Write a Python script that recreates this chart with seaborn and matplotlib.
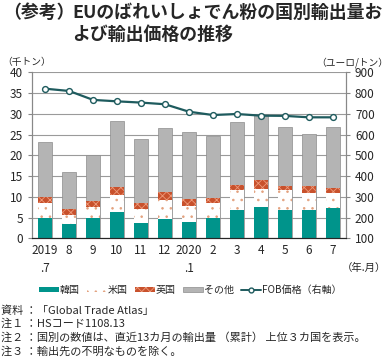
import numpy as np
import pandas as pd
import matplotlib
matplotlib.use("Agg")
import matplotlib.pyplot as plt
from matplotlib.patches import Patch
from matplotlib.lines import Line2D
from matplotlib.ticker import MultipleLocator, FixedLocator
import seaborn as sns

# データ
months = ["2019\n.7", "8", "9", "10", "11", "12", "2020\n.1", "2", "3", "4", "5", "6", "7"]
korea = [5.0, 3.4, 4.8, 6.3, 3.6, 4.7, 3.9, 4.9, 6.7, 7.6, 6.9, 6.7, 7.4]
usa = [3.4, 2.1, 2.8, 4.2, 3.4, 4.6, 4.0, 3.7, 4.9, 4.2, 4.7, 4.1, 3.6]
uk = [1.5, 1.5, 1.4, 1.8, 1.6, 1.8, 1.5, 1.2, 1.3, 2.2, 1.0, 1.8, 1.2]
other = [13.2, 8.9, 11.0, 15.9, 15.3, 15.4, 16.2, 14.8, 15.1, 16.0, 14.3, 12.5, 14.7]
fob = [821, 810, 767, 760, 754, 746, 710, 694, 699, 691, 690, 683, 683]


def main():
    sns.set_style("white")
    plt.rcParams['font.family'] = ['Noto Sans CJK JP', 'DejaVu Sans']
    plt.rcParams['hatch.linewidth'] = 0.6

    df = pd.DataFrame({"month": months, "korea": korea, "usa": usa, "uk": uk, "other": other})
    df["c1"] = df["korea"]
    df["c2"] = df["c1"] + df["usa"]
    df["c3"] = df["c2"] + df["uk"]
    df["c4"] = df["c3"] + df["other"]

    c_teal = "#00948b"
    c_red = "#c8512c"
    c_gray = "#b4b4b4"
    c_line = "#1e5b5e"

    fig = plt.figure(figsize=(3.9, 3.57), dpi=100)
    ax = fig.add_axes([0.082, 0.3325, 0.805, 0.465])

    w = 0.58
    # 積み上げ（後ろから描画）
    sns.barplot(data=df, x="month", y="c4", color=c_gray, saturation=1, width=w,
                edgecolor="#8c8c8c", linewidth=0.5, ax=ax, zorder=2)
    sns.barplot(data=df, x="month", y="c3", color=c_red, saturation=1, width=w,
                edgecolor="#ee9a7a", linewidth=0, hatch="xxxx", ax=ax, zorder=2)
    sns.barplot(data=df, x="month", y="c2", color="white", saturation=1, width=w,
                edgecolor="#e3a27f", linewidth=0, hatch="..", ax=ax, zorder=2)
    sns.barplot(data=df, x="month", y="c1", color=c_teal, saturation=1, width=w,
                linewidth=0, ax=ax, zorder=2)

    ax.set_ylim(0, 40)
    ax.set_xlim(-0.55, len(months) - 0.45)
    ax.yaxis.set_major_locator(MultipleLocator(5))
    ax.grid(axis="y", color="#9a9a9a", linewidth=0.8, zorder=0)
    ax.set_axisbelow(True)
    ax.set_xlabel("")
    ax.set_ylabel("")
    ax.spines["top"].set_visible(False)
    for s in ["left", "right"]:
        ax.spines[s].set_color("#888888")
    ax.spines["bottom"].set_color("#555555")
    ax.tick_params(axis="x", which="major", length=0, labelsize=8.5, pad=4)
    ax.xaxis.set_minor_locator(FixedLocator(np.arange(-0.5, len(months), 1.0)))
    ax.tick_params(axis="x", which="minor", length=3, color="#555555", direction="out")
    ax.tick_params(axis="y", labelsize=8.5, length=3, color="#888888", left=True)
    for lab in ax.get_xticklabels():
        lab.set_linespacing(1.5)

    ax2 = ax.twinx()
    sns.lineplot(x=np.arange(len(fob)), y=fob, ax=ax2, color=c_line, linewidth=1.6,
                 marker="o", markersize=4.2, markerfacecolor="white",
                 markeredgecolor=c_line, markeredgewidth=1.0, zorder=5)
    ax2.set_ylim(100, 900)
    ax2.yaxis.set_major_locator(MultipleLocator(100))
    ax2.tick_params(axis="y", labelsize=8.5, length=3, color="#888888", right=True)
    ax2.spines["top"].set_visible(False)
    ax2.spines["right"].set_color("#888888")
    ax2.spines["left"].set_color("#888888")
    ax2.grid(False)

    # タイトル・単位
    fig.text(0.008, 0.965, "（参考）", fontsize=12.9, fontweight="bold", va="center", ha="left")
    fig.text(0.185, 0.965, "EUのばれいしょでん粉の国別輸出量お", fontsize=12.9,
             fontweight="bold", va="center", ha="left")
    fig.text(0.185, 0.902, "よび輸出価格の推移", fontsize=12.9, fontweight="bold",
             va="center", ha="left")
    fig.text(0.005, 0.826, "（千トン）", fontsize=7, va="center", ha="left")
    fig.text(0.995, 0.826, "（ユーロ/トン）", fontsize=7, va="center", ha="right")
    fig.text(0.99, 0.25, "（年.月）", fontsize=7.5, va="center", ha="right")

    handles = [
        Patch(facecolor=c_teal, edgecolor="none", label="韓国"),
        Patch(facecolor="white", edgecolor="#e3a27f", hatch="..", linewidth=0, label="米国"),
        Patch(facecolor=c_red, edgecolor="#ee9a7a", hatch="xxxx", linewidth=0, label="英国"),
        Patch(facecolor=c_gray, edgecolor="#8c8c8c", linewidth=0.5, label="その他"),
        Line2D([0], [0], color=c_line, linewidth=1.4, marker="o", markersize=3.5,
               markerfacecolor="white", markeredgecolor=c_line, label="FOB価格（右軸）"),
    ]
    fig.legend(handles=handles, loc="center", bbox_to_anchor=(0.487, 0.188), ncol=5,
               frameon=False, fontsize=7.2, handlelength=2.0, handleheight=0.4,
               handletextpad=0.1, columnspacing=0.7)

    notes = [
        "資料 ：「Global Trade Atlas」",
        "注１ ：HSコード1108.13",
        "注２ ：国別の数値は、直近13カ月の輸出量 （累計） 上位３カ国を表示。",
        "注３ ：輸出先の不明なものを除く。",
    ]
    for i, t in enumerate(notes):
        fig.text(0.003, 0.131 - i * 0.0385, t, fontsize=8.0, va="center", ha="left")

    fig.savefig("out.png", dpi=100)
    plt.close(fig)


if __name__ == "__main__":
    main()
